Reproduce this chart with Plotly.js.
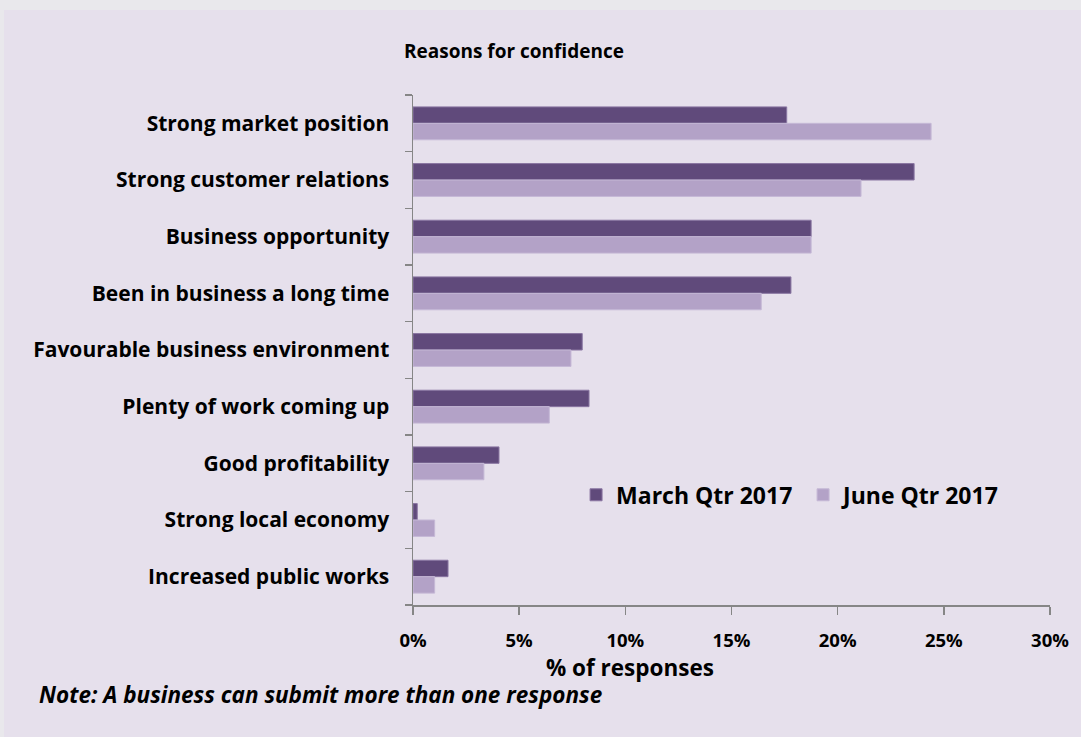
<!DOCTYPE html>
<html>
<head>
<meta charset="utf-8">
<script src="https://cdn.plot.ly/plotly-3.0.1.min.js"></script>
<style>
html, body { margin: 0; padding: 0; background: #e9e8ec; width: 1081px; height: 737px; overflow: hidden; }
#chart { position: absolute; left: 4px; top: 10px; width: 1077px; height: 727px; }
</style>
</head>
<body>
<div id="chart"></div>
<script>
const categories = [
  "Strong market position",
  "Strong customer relations",
  "Business opportunity",
  "Been in business a long time",
  "Favourable business environment",
  "Plenty of work coming up",
  "Good profitability",
  "Strong local economy",
  "Increased public works"
];
const marchQtr2017 = [17.6, 23.6, 18.75, 17.8, 7.97, 8.29, 4.05, 0.2, 1.65];
const juneQtr2017 = [24.4, 21.1, 18.75, 16.4, 7.44, 6.42, 3.34, 1.02, 1.02];
const seriesNames = ["March Qtr 2017", "June Qtr 2017"];
const xTickValues = [0, 5, 10, 15, 20, 25, 30];

const FONT = "'Open Sans', 'Noto Sans', sans-serif";

const traces = [
  {
    type: "bar", orientation: "h", name: "<b>" + seriesNames[0] + "</b>",
    y: categories, x: marchQtr2017,
    marker: { color: "#604a7b", line: { color: "#8a76a2", width: 1 } },
    hoverinfo: "skip"
  },
  {
    type: "bar", orientation: "h", name: "<b>" + seriesNames[1] + "</b>",
    y: categories, x: juneQtr2017,
    marker: { color: "#b3a2c7", line: { color: "#c5b8d6", width: 1 } },
    hoverinfo: "skip"
  }
];

const layout = {
  width: 1077, height: 727,
  paper_bgcolor: "#e6e0ec",
  plot_bgcolor: "#e6e0ec",
  margin: { l: 409, r: 31, t: 85, b: 132 },
  barmode: "group",
  bargap: 0.42,
  bargroupgap: 0,
  showlegend: true,
  font: { family: FONT, color: "#000000" },
  title: {
    text: "<b>Reasons for confidence</b>",
    font: { family: FONT, size: 19, color: "#000" },
    x: 0.4735, xanchor: "center", y: 0.9436, yanchor: "middle"
  },
  xaxis: {
    range: [0, 30],
    tickvals: xTickValues,
    ticktext: xTickValues.map(v => "<b>" + v + "%</b>"),
    tickfont: { family: FONT, size: 18.5, color: "#000" },
    ticks: "outside", ticklen: 8, tickwidth: 1.5, tickcolor: "#868686",
    ticklabelstandoff: 10,
    showline: true, linecolor: "#868686", linewidth: 1.5,
    showgrid: false, zeroline: false,
    fixedrange: true
  },
  yaxis: {
    type: "category",
    autorange: "reversed",
    tickson: "boundaries",
    ticks: "outside", ticklen: 7, tickwidth: 1.5, tickcolor: "#868686",
    tickfont: { family: FONT, size: 21, color: "#000" },
    ticktext: categories.map(c => "<b>" + c + "</b>"),
    tickvals: categories,
    ticklabelstandoff: 18,
    showline: true, linecolor: "#868686", linewidth: 1.5,
    showgrid: false, zeroline: false,
    fixedrange: true
  },
  legend: {
    orientation: "h",
    x: 0.256, xanchor: "left",
    y: 0.216, yanchor: "middle",
    bgcolor: "rgba(0,0,0,0)",
    font: { family: FONT, size: 23, color: "#000" },
    entrywidth: 182,
    entrywidthmode: "pixels",
    itemwidth: 30,
    traceorder: "normal"
  },
  annotations: [
    {
      text: "<b>% of responses</b>",
      xref: "paper", yref: "paper",
      x: 0.341, xanchor: "center",
      y: -0.123, yanchor: "middle",
      showarrow: false,
      font: { family: FONT, size: 22.5, color: "#000" }
    },
    {
      text: "<b><i>Note: A business can submit more than one response</i></b>",
      xref: "paper", yref: "paper",
      x: -0.590, xanchor: "left",
      y: -0.176, yanchor: "middle",
      showarrow: false,
      font: { family: FONT, size: 22.5, color: "#000" }
    }
  ]
};

Plotly.newPlot("chart", traces, layout, { displayModeBar: false, staticPlot: true });
</script>
</body>
</html>
